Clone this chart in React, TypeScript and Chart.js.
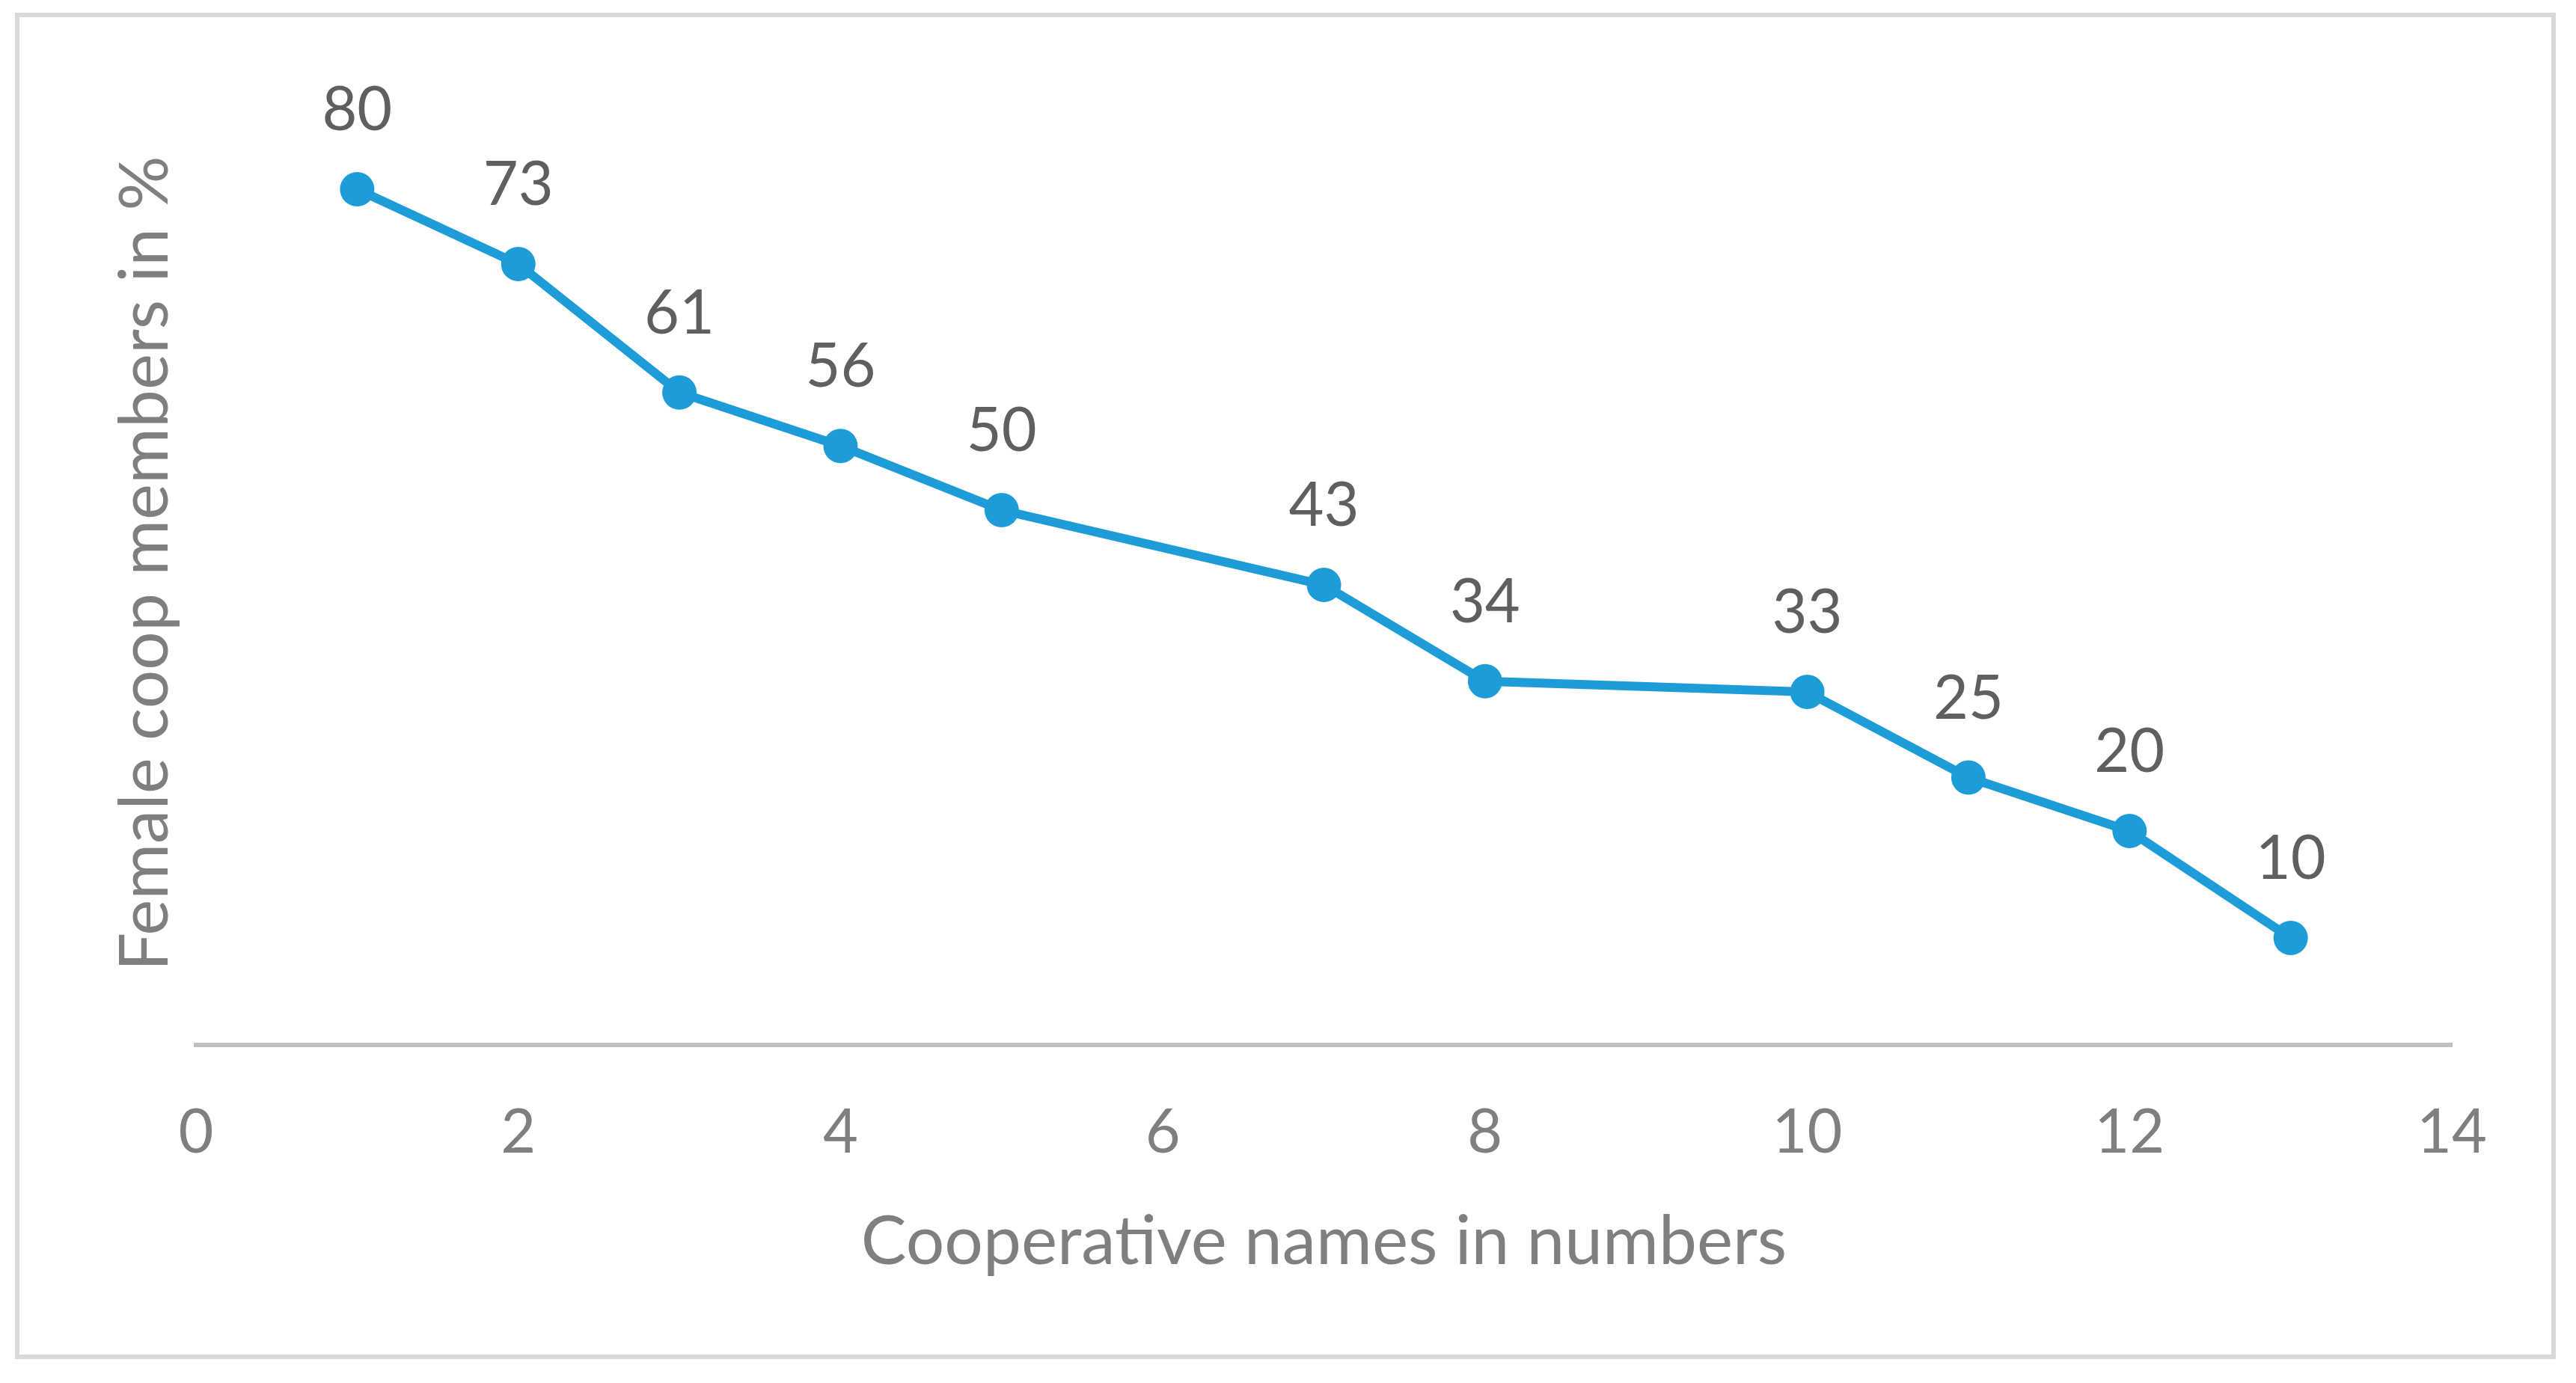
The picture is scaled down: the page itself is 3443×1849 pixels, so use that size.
import React, { useEffect, useRef } from "react";
import { Chart, registerables } from "chart.js";

Chart.register(...registerables);

const cooperativeNumbers = [1, 2, 3, 4, 5, 7, 8, 10, 11, 12, 13];
const femaleShare = [80, 73, 61, 56, 50, 43, 34, 33, 25, 20, 10];
const xTickStep = 2;
const xMin = 0;
const xMax = 14;
const yMin = 0;
const yMax = 90;
const xTitle = "Cooperative names in numbers";
const yTitle = "Female coop members in %";

const W = 3443;
const H = 1849;
const FONT = "Lato, 'Open Sans', sans-serif";

export default function App() {
  const ref = useRef<HTMLCanvasElement | null>(null);

  useEffect(() => {
    const canvas = ref.current;
    if (!canvas) return;

    const framePlugin = {
      id: "frame",
      beforeDraw(chart: any) {
        const ctx = chart.ctx;
        ctx.save();
        ctx.fillStyle = "#ffffff";
        ctx.fillRect(0, 0, chart.width, chart.height);
        ctx.strokeStyle = "#d9d9d9";
        ctx.lineWidth = 6;
        ctx.strokeRect(23, 20, 3413 - 23, 1814 - 20);
        ctx.restore();
      },
    };

    const labelPlugin = {
      id: "pointLabels",
      afterDatasetsDraw(chart: any) {
        const meta = chart.getDatasetMeta(0);
        const ctx = chart.ctx;
        ctx.save();
        ctx.font = `81px ${FONT}`;
        ctx.fillStyle = "#5f5f5f";
        ctx.textAlign = "center";
        ctx.textBaseline = "alphabetic";
        meta.data.forEach((pt: any, i: number) => {
          ctx.fillText(String(femaleShare[i]), pt.x, pt.y - 79);
        });
        ctx.restore();
      },
    };

    const chart = new Chart(canvas, {
      type: "line",
      data: {
        datasets: [
          {
            label: "Female coop members",
            data: cooperativeNumbers.map((x, i) => ({ x, y: femaleShare[i] })),
            borderColor: "#1e9cd8",
            backgroundColor: "#1e9cd8",
            borderWidth: 12,
            pointRadius: 23,
            pointHoverRadius: 23,
            pointBorderWidth: 0,
            pointBackgroundColor: "#1e9cd8",
            tension: 0,
            fill: false,
            clip: false as any,
          },
        ],
      },
      options: {
        responsive: false,
        animation: false,
        events: [],
        layout: { padding: { left: 0, right: 166, top: 110, bottom: 0 } },
        plugins: {
          legend: { display: false },
          tooltip: { enabled: false },
          title: { display: false },
        },
        scales: {
          x: {
            type: "linear",
            min: xMin,
            max: xMax,
            grid: { display: false, drawTicks: false },
            border: { display: true, color: "#bfbfbf", width: 6 },
            ticks: {
              stepSize: xTickStep,
              color: "#7f7f7f",
              font: { family: FONT, size: 81 },
              padding: 69,
              maxRotation: 0,
            },
            title: {
              display: true,
              text: xTitle,
              color: "#7f7f7f",
              font: { family: FONT, size: 91 },
              padding: { top: 0, bottom: 134 },
            },
            afterFit: (scale: any) => {
              scale.height = H - 1397;
            },
          },
          y: {
            type: "linear",
            min: yMin,
            max: yMax,
            grid: { display: false, drawTicks: false },
            border: { display: false },
            ticks: { display: false },
            title: {
              display: true,
              text: yTitle,
              color: "#7f7f7f",
              font: { family: FONT, size: 91 },
              padding: { top: 140, bottom: 0 },
            },
            afterFit: (scale: any) => {
              scale.width = 262;
            },
          },
        },
      },
      plugins: [framePlugin, labelPlugin],
    });

    return () => chart.destroy();
  }, []);

  return (
    <div style={{ position: "fixed", left: 0, top: 0, width: W, height: H, background: "#fff" }}>
      <canvas ref={ref} width={W} height={H} style={{ display: "block", width: W, height: H }} />
    </div>
  );
}
